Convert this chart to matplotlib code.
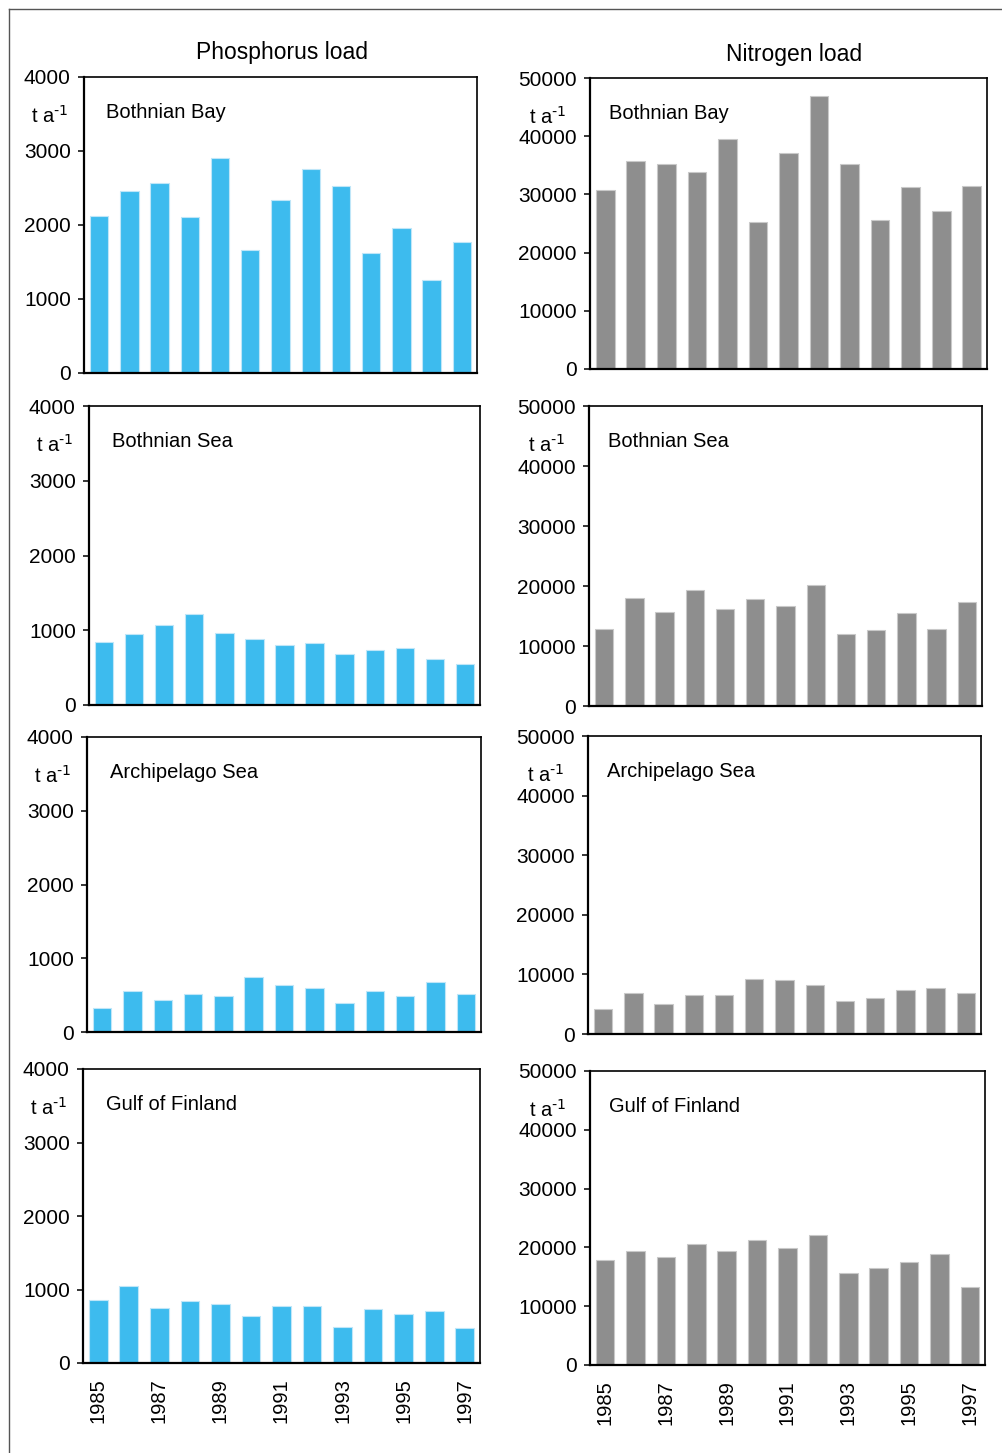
"""Riverine phosphorus and nitrogen load to the Finnish sea areas, 1985-1997."""

import numpy as np
import matplotlib.pyplot as plt
from matplotlib.lines import Line2D

plt.rcParams["font.family"] = ["Liberation Sans", "DejaVu Sans"]
plt.rcParams["mathtext.default"] = "regular"

# --- data, t/a ---
YEARS = np.arange(1985, 1998)
AREAS = ["Bothnian Bay", "Bothnian Sea", "Archipelago Sea", "Gulf of Finland"]

p_bothnian_bay = [2126, 2464, 2572, 2104, 2910, 1662, 2342, 2761, 2532, 1617, 1955, 1257, 1766]
p_bothnian_sea = [842, 949, 1073, 1220, 967, 882, 802, 824, 677, 739, 762, 615, 548]
p_archipelago = [326, 557, 430, 512, 494, 752, 643, 602, 390, 557, 494, 684, 512]
p_gulf_finland = [863, 1053, 754, 840, 799, 645, 772, 772, 495, 731, 667, 713, 477]

n_bothnian_bay = [30720, 35810, 35300, 33920, 39590, 25340, 37190, 46850, 35300, 25570, 31240, 27230, 31520]
n_bothnian_sea = [12850, 18080, 15740, 19410, 16240, 17800, 16740, 20190, 12070, 12630, 15460, 12850, 17300]
n_archipelago = [4250, 6880, 5030, 6600, 6600, 9230, 9000, 8220, 5540, 6100, 7380, 7720, 6880]
n_gulf_finland = [17880, 19470, 18390, 20550, 19470, 21340, 19980, 22130, 15720, 16520, 17590, 18960, 13340]

P_LOAD = [p_bothnian_bay, p_bothnian_sea, p_archipelago, p_gulf_finland]
N_LOAD = [n_bothnian_bay, n_bothnian_sea, n_archipelago, n_gulf_finland]

P_TICKS = [0, 1000, 2000, 3000, 4000]
N_TICKS = [0, 10000, 20000, 30000, 40000, 50000]

BLUE, BLUE_EDGE = "#3dbbee", "#bfe6f8"
GREY, GREY_EDGE = "#8e8e8e", "#c9c9c9"

W, H = 1002, 1453
# panel boxes in pixels: left, top, right, bottom
P_BOXES = [(84, 77, 477, 373), (89, 406, 480, 705), (87, 737, 481, 1032), (83, 1069, 480, 1363)]
N_BOXES = [(590, 78, 987, 369), (589, 406, 982, 706), (588, 736, 981, 1034), (590, 1071, 985, 1365)]


def add_panel(fig, box, values, ticks, color, edge, area, last_row, name_dx):
    l, t, r, b = box
    ax = fig.add_axes([l / W, 1 - b / H, (r - l) / W, (b - t) / H])
    x = np.arange(len(YEARS))
    ax.bar(x, values, width=0.61, color=color, edgecolor=edge, linewidth=0.8)
    ax.set_xlim(-0.5, len(YEARS) - 0.5)
    ax.set_ylim(ticks[0], ticks[-1])
    ax.set_yticks(ticks)
    ax.tick_params(axis="y", direction="out", length=4.5, width=1.1,
                   pad=5, labelsize=15)
    if last_row:
        ax.set_xticks(x[::2])
        ax.set_xticklabels([str(y) for y in YEARS[::2]], rotation=90,
                           fontsize=14.5)
        ax.tick_params(axis="x", length=0, pad=11)
    else:
        ax.set_xticks([])
    for side, sp in ax.spines.items():
        sp.set_linewidth(1.6 if side in ("left", "bottom") else 1.2)
        sp.set_color("black")
    ax.annotate(area, xy=(0, 1), xycoords="axes fraction",
                xytext=(name_dx, -25.5), textcoords="offset points",
                va="center", ha="left", fontsize=14.5)
    ax.annotate(r"t a$^{\text{-1}}$", xy=(0, 1), xycoords="axes fraction",
                xytext=(-11 if ticks[-1] < 10000 else -17, -28),
                textcoords="offset points", va="center", ha="right",
                fontsize=14.5)
    return ax


def main() -> None:
    fig = plt.figure(figsize=(W / 100, H / 100), dpi=100)

    for i, area in enumerate(AREAS):
        last = i == len(AREAS) - 1
        add_panel(fig, P_BOXES[i], P_LOAD[i], P_TICKS, BLUE, BLUE_EDGE,
                  area, last, 16.2)
        add_panel(fig, N_BOXES[i], N_LOAD[i], N_TICKS, GREY, GREY_EDGE,
                  area, last, 13.8)

    fig.text(282 / W, 1 - 52 / H, "Phosphorus load", ha="center", va="center",
             fontsize=16.5)
    fig.text(794 / W, 1 - 54 / H, "Nitrogen load", ha="center", va="center",
             fontsize=16.5)

    # open frame round the figure
    fx, fy = 8.5 / W, 1 - 8.5 / H
    fig.add_artist(Line2D([fx, 1], [fy, fy], color="#555555", lw=1.0))
    fig.add_artist(Line2D([fx, fx], [0, fy], color="#555555", lw=1.0))

    fig.savefig("out.png", dpi=100)


if __name__ == "__main__":
    main()
